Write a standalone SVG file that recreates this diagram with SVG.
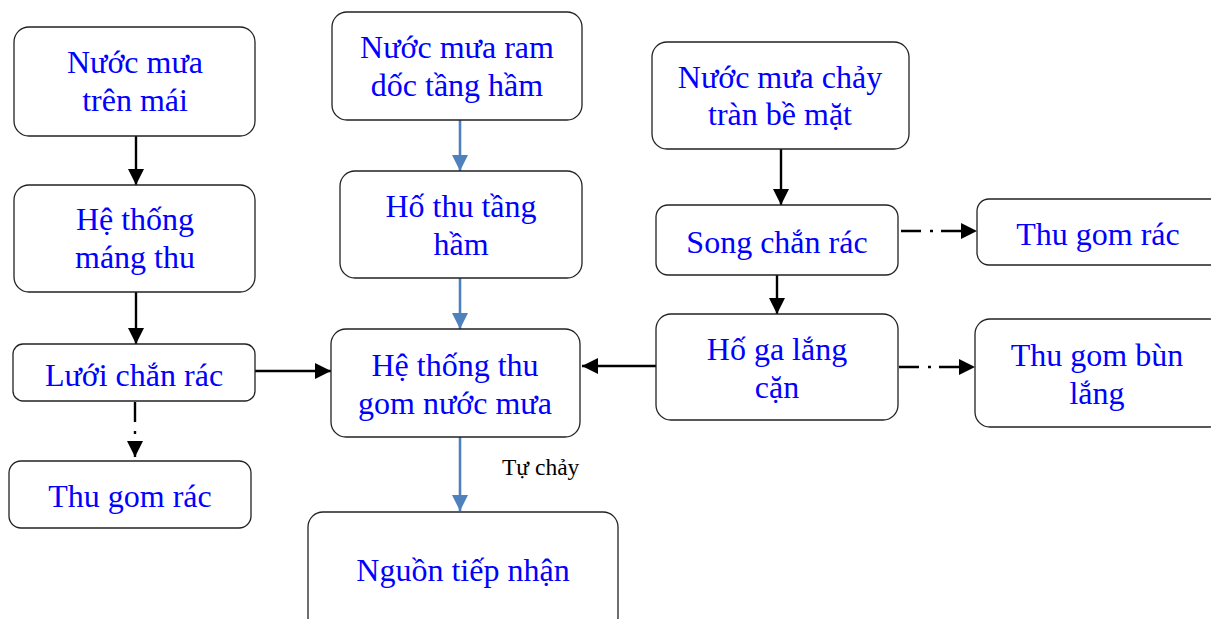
<svg xmlns="http://www.w3.org/2000/svg" width="1211" height="619" viewBox="0 0 1211 619">
<defs>
<style>
.box{fill:#fff;stroke:#222;stroke-width:1.3}
.t{font-family:"Liberation Serif","Times New Roman",serif;font-size:32px;fill:#0000ff;text-anchor:middle}
.lbl{font-family:"Liberation Serif","Times New Roman",serif;font-size:23.5px;fill:#000}
.k{stroke:#000;stroke-width:2.4;fill:none}
.b{stroke:#4f81bd;stroke-width:2.6;fill:none}
.dd{stroke:#000;stroke-width:2.4;fill:none;stroke-dasharray:20 9 3 8}
</style>
<marker id="ak" markerWidth="16" markerHeight="16" viewBox="0 0 16 16" refX="16" refY="8" orient="auto" markerUnits="userSpaceOnUse"><path d="M0,0 L16,8 L0,16 Z" fill="#000"/></marker>
<marker id="ab" markerWidth="16" markerHeight="16" viewBox="0 0 16 16" refX="16" refY="8" orient="auto" markerUnits="userSpaceOnUse"><path d="M0,0 L16,8 L0,16 Z" fill="#4f81bd"/></marker>
</defs>
<rect width="1211" height="619" fill="#fff"/>
<g id="connectors">
<line class="k" x1="136" y1="136" x2="136" y2="185" marker-end="url(#ak)"/>
<line class="k" x1="136" y1="292" x2="136" y2="344" marker-end="url(#ak)"/>
<line class="dd" x1="135" y1="402" x2="135" y2="457" marker-end="url(#ak)"/>
<line class="k" x1="255" y1="371" x2="331" y2="371" marker-end="url(#ak)"/>
<line class="b" x1="460" y1="120" x2="460" y2="171" marker-end="url(#ab)"/>
<line class="b" x1="460" y1="278" x2="460" y2="329" marker-end="url(#ab)"/>
<line class="b" x1="460" y1="437" x2="460" y2="511" marker-end="url(#ab)"/>
<line class="k" x1="781" y1="149" x2="781" y2="205" marker-end="url(#ak)"/>
<line class="k" x1="777" y1="275" x2="777" y2="314" marker-end="url(#ak)"/>
<line class="k" x1="656" y1="366" x2="582" y2="366" marker-end="url(#ak)"/>
<line class="dd" x1="901" y1="231" x2="977" y2="231" marker-end="url(#ak)"/>
<line class="dd" x1="899" y1="367" x2="975" y2="367" marker-end="url(#ak)"/>
<text class="lbl" x="502" y="475">Tự chảy</text>
</g>
<g id="n1"><rect class="box" x="14" y="27" width="241" height="109" rx="15"/><text class="t" x="135" y="73">Nước mưa</text><text class="t" x="135" y="111">trên mái</text></g>
<g id="n2"><rect class="box" x="14" y="185" width="241" height="107" rx="15"/><text class="t" x="135" y="230">Hệ thống</text><text class="t" x="135" y="268">máng thu</text></g>
<g id="n3"><rect class="box" x="13" y="344" width="242" height="57" rx="10"/><text class="t" x="134" y="386">Lưới chắn rác</text></g>
<g id="n4"><rect class="box" x="9" y="461" width="242" height="67" rx="12"/><text class="t" x="130" y="507">Thu gom rác</text></g>
<g id="n5"><rect class="box" x="332" y="12" width="250" height="108" rx="15"/><text class="t" x="457" y="58">Nước mưa ram</text><text class="t" x="457" y="96">dốc tầng hầm</text></g>
<g id="n6"><rect class="box" x="340" y="171" width="242" height="107" rx="15"/><text class="t" x="461" y="217">Hố thu tầng</text><text class="t" x="461" y="255">hầm</text></g>
<g id="n7"><rect class="box" x="331" y="329" width="249" height="108" rx="15"/><text class="t" x="455" y="376">Hệ thống thu</text><text class="t" x="455" y="414">gom nước mưa</text></g>
<g id="n8"><rect class="box" x="308" y="512" width="310" height="120" rx="15"/><text class="t" x="463" y="581">Nguồn tiếp nhận</text></g>
<g id="n9"><rect class="box" x="652" y="42" width="257" height="107" rx="15"/><text class="t" x="780" y="88">Nước mưa chảy</text><text class="t" x="780" y="125">tràn bề mặt</text></g>
<g id="n10"><rect class="box" x="656" y="205" width="242" height="70" rx="12"/><text class="t" x="777" y="253">Song chắn rác</text></g>
<g id="n11"><rect class="box" x="656" y="314" width="242" height="106" rx="15"/><text class="t" x="777" y="360">Hố ga lắng</text><text class="t" x="777" y="398">cặn</text></g>
<g id="n12"><rect class="box" x="977" y="199" width="250" height="66" rx="12"/><text class="t" x="1098" y="245">Thu gom rác</text></g>
<g id="n13"><rect class="box" x="975" y="319" width="250" height="108" rx="15"/><text class="t" x="1097" y="366">Thu gom bùn</text><text class="t" x="1097" y="404">lắng</text></g>
</svg>
